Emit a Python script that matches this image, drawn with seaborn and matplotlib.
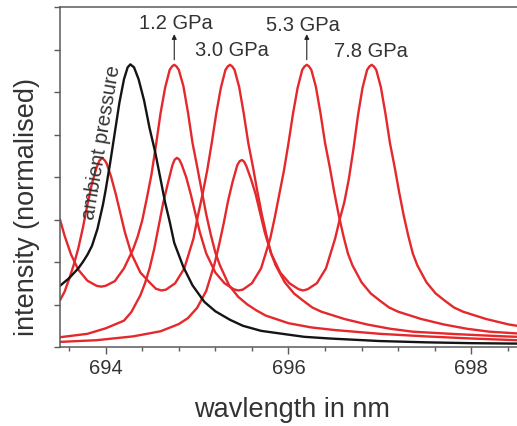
import matplotlib
matplotlib.use('Agg')
import matplotlib.pyplot as plt
from matplotlib.ticker import MultipleLocator
import seaborn as sns

# ruby fluorescence spectra
wl_amb = [693.50, 693.60, 693.70, 693.75, 693.80, 693.85, 693.91, 693.97, 694.00, 694.05,
          694.10, 694.15, 694.20, 694.24, 694.27, 694.31, 694.36, 694.42, 694.48, 694.54,
          694.60, 694.65, 694.70, 694.75, 694.85, 694.95, 695.08, 695.20, 695.36, 695.50,
          695.70, 695.90, 696.17, 696.45, 697.00, 697.50, 698.00, 698.50]
int_amb = [1.44, 1.62, 1.85, 2.00, 2.17, 2.38, 2.78, 3.35, 3.70, 4.35,
           5.05, 5.75, 6.30, 6.58, 6.65, 6.58, 6.30, 5.80, 5.15, 4.60,
           3.95, 3.40, 2.95, 2.45, 1.88, 1.45, 1.06, 0.84, 0.64, 0.50,
           0.38, 0.32, 0.24, 0.20, 0.14, 0.11, 0.09, 0.08]

wl_12 = [693.50, 693.55, 693.62, 693.70, 693.80, 693.90, 693.95, 694.00, 694.10, 694.20,
         694.30, 694.35, 694.40, 694.45, 694.50, 694.55, 694.60, 694.65, 694.70, 694.725,
         694.75, 694.775, 694.80, 694.85, 694.90, 694.95, 695.00, 695.05, 695.10, 695.15,
         695.20, 695.25, 695.35, 695.45, 695.55, 695.65, 695.75, 696.00, 696.25, 696.50,
         697.00, 697.50, 698.00, 698.50]
int_12 = [3.00, 2.62, 2.18, 1.82, 1.56, 1.44, 1.42, 1.44, 1.55, 1.85,
          2.30, 2.60, 2.98, 3.50, 4.05, 4.75, 5.50, 6.10, 6.52, 6.60,
          6.64, 6.60, 6.52, 6.14, 5.52, 4.80, 4.25, 3.68, 3.12, 2.64,
          2.22, 1.92, 1.45, 1.18, 1.00, 0.86, 0.74, 0.56, 0.46, 0.40,
          0.31, 0.25, 0.20, 0.16]

wl_30 = [693.50, 693.55, 693.60, 693.65, 693.70, 693.75, 693.80, 693.85, 693.90, 693.93,
         693.96, 693.99, 694.01, 694.06, 694.11, 694.16, 694.21, 694.28, 694.38, 694.48,
         694.55, 694.61, 694.66, 694.76, 694.86, 694.96, 695.01, 695.06, 695.11, 695.16,
         695.21, 695.26, 695.31, 695.335, 695.36, 695.385, 695.41, 695.46, 695.51, 695.56,
         695.61, 695.66, 695.71, 695.76, 695.81, 695.86, 695.96, 696.06, 696.16, 696.26,
         696.36, 696.61, 696.86, 697.11, 697.36, 697.86, 698.36, 698.50]
int_30 = [1.10, 1.30, 1.60, 1.93, 2.32, 2.80, 3.35, 3.85, 4.22, 4.38,
          4.45, 4.39, 4.32, 4.00, 3.60, 3.15, 2.70, 2.20, 1.75, 1.52,
          1.37, 1.33, 1.35, 1.50, 1.85, 2.55, 3.10, 3.60, 4.15, 4.80,
          5.50, 6.10, 6.52, 6.60, 6.64, 6.60, 6.52, 6.12, 5.50, 4.80,
          4.25, 3.65, 3.10, 2.62, 2.20, 1.92, 1.52, 1.26, 1.09, 0.93,
          0.83, 0.66, 0.53, 0.43, 0.36, 0.30, 0.25, 0.24]

wl_53 = [693.50, 693.80, 694.00, 694.10, 694.20, 694.28, 694.38, 694.43, 694.48, 694.53,
         694.58, 694.63, 694.68, 694.73, 694.755, 694.78, 694.805, 694.83, 694.88, 694.93,
         694.98, 695.03, 695.10, 695.20, 695.30, 695.40, 695.45, 695.50, 695.60, 695.70,
         695.80, 695.85, 695.90, 695.95, 696.00, 696.05, 696.10, 696.15, 696.175, 696.20,
         696.225, 696.25, 696.30, 696.35, 696.40, 696.45, 696.50, 696.55, 696.60, 696.65,
         696.70, 696.80, 696.90, 697.00, 697.10, 697.20, 697.45, 697.70, 697.95, 698.20,
         698.50]
int_53 = [0.23, 0.31, 0.44, 0.53, 0.62, 0.82, 1.22, 1.50, 1.85, 2.30,
          2.85, 3.40, 3.85, 4.28, 4.41, 4.45, 4.41, 4.30, 4.00, 3.60,
          3.15, 2.70, 2.20, 1.75, 1.50, 1.36, 1.33, 1.35, 1.50, 1.85,
          2.55, 3.05, 3.60, 4.15, 4.80, 5.50, 6.10, 6.52, 6.60, 6.64,
          6.60, 6.52, 6.12, 5.50, 4.80, 4.25, 3.65, 3.10, 2.62, 2.20,
          1.92, 1.52, 1.26, 1.09, 0.93, 0.83, 0.66, 0.53, 0.43, 0.36,
          0.32]

wl_78 = [693.50, 693.90, 694.30, 694.60, 694.80, 694.90, 695.00, 695.10, 695.19, 695.24,
         695.29, 695.34, 695.39, 695.44, 695.465, 695.49, 695.515, 695.54, 695.59, 695.64,
         695.69, 695.74, 695.81, 695.91, 696.01, 696.11, 696.16, 696.21, 696.31, 696.41,
         696.51, 696.56, 696.61, 696.66, 696.71, 696.76, 696.81, 696.86, 696.885, 696.91,
         696.935, 696.96, 697.01, 697.06, 697.11, 697.16, 697.21, 697.26, 697.31, 697.36,
         697.41, 697.51, 697.61, 697.71, 697.81, 697.91, 698.16, 698.41, 698.50]
int_78 = [0.12, 0.16, 0.25, 0.37, 0.54, 0.68, 0.92, 1.32, 1.95, 2.40,
          2.90, 3.45, 3.90, 4.28, 4.37, 4.40, 4.36, 4.25, 3.95, 3.60,
          3.15, 2.70, 2.20, 1.75, 1.50, 1.36, 1.33, 1.36, 1.50, 1.85,
          2.55, 3.00, 3.40, 3.95, 4.65, 5.45, 6.10, 6.52, 6.60, 6.64,
          6.60, 6.52, 6.12, 5.50, 4.80, 4.25, 3.65, 3.10, 2.62, 2.20,
          1.92, 1.52, 1.26, 1.09, 0.93, 0.83, 0.66, 0.53, 0.50]

pressure_labels = ['1.2 GPa', '3.0 GPa', '5.3 GPa', '7.8 GPa']
label_x = [694.77, 695.38, 696.16, 696.90]
label_y = [7.48, 6.84, 7.44, 6.82]
arrow_x = [694.75, 696.20]   # peaks marked with arrows (1.2 and 5.3 GPa)

RED = '#e4282c'
INK = '#333333'
GREY = '#5a5a5a'

sns.set_theme(style='ticks')
plt.rcParams['font.family'] = ['Liberation Sans', 'DejaVu Sans']

fig = plt.figure(figsize=(5.17, 4.26), dpi=100)
ax = fig.add_axes([60 / 517, 79 / 426, 457 / 517, 340 / 426])

for wl, inten in [(wl_12, int_12), (wl_30, int_30), (wl_53, int_53), (wl_78, int_78)]:
    sns.lineplot(x=wl, y=inten, color=RED, lw=1.7, estimator=None, ax=ax)
sns.lineplot(x=wl_amb, y=int_amb, color='#141414', lw=1.7, estimator=None, ax=ax)

ax.set_xlim(693.5, 698.5)
ax.set_ylim(0, 8)
ax.xaxis.set_major_locator(MultipleLocator(2))
ax.xaxis.set_minor_locator(MultipleLocator(0.4))
ax.yaxis.set_major_locator(MultipleLocator(1))
ax.tick_params(axis='x', which='major', direction='out', length=5, width=1,
               color=GREY, labelsize=14.5, labelcolor=INK, pad=4)
ax.tick_params(axis='x', which='minor', direction='out', length=3, width=1, color=GREY)
ax.tick_params(axis='y', which='major', direction='out', length=4.5, width=1,
               color=GREY, labelleft=False)
ax.spines['right'].set_visible(False)
for side in ['left', 'bottom', 'top']:
    ax.spines[side].set_color(GREY)
    ax.spines[side].set_linewidth(1.1)
ax.set_xlabel('')
ax.set_ylabel('')

for txt, x, y in zip(pressure_labels, label_x, label_y):
    ax.text(x, y, txt, ha='center', va='baseline', fontsize=14.5, color=INK)
for x in arrow_x:
    ax.annotate('', xy=(x, 7.36), xytext=(x, 6.76),
                arrowprops=dict(arrowstyle='-|>', color='#222222', lw=0.8,
                                mutation_scale=7, shrinkA=0, shrinkB=0))

ax.text(693.95, 4.81, 'ambient pressure', rotation=80.5, rotation_mode='anchor',
        ha='center', va='center', fontsize=14.5, color=INK)

fig.text(292 / 517, 1 - 410 / 426, 'wavlength in nm', ha='center', va='center',
         fontsize=19.5, color=INK)
fig.text(27 / 517, 1 - 207 / 426, 'intensity (normalised)', ha='center', va='center',
         rotation=90, fontsize=19.5, color=INK)

fig.savefig('out.png', dpi=100)
